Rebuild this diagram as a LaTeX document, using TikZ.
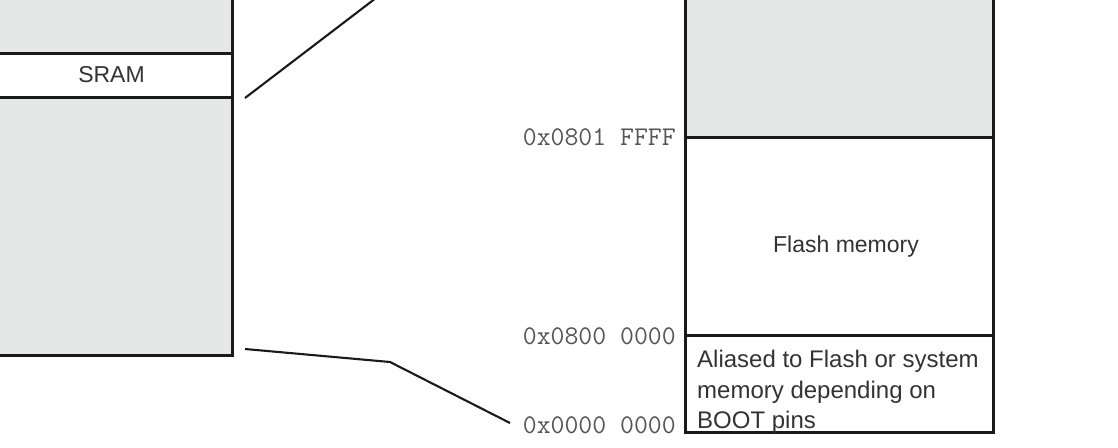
\documentclass[tikz,border=0pt]{standalone}
\usepackage{fontspec}
\setmainfont{Liberation Sans}
\definecolor{memgray}{HTML}{E6E7E7}
\definecolor{edge}{HTML}{1A1A1A}
\definecolor{txt}{HTML}{333333}
\definecolor{addr}{HTML}{555555}
\begin{document}
\begin{tikzpicture}[x=1pt,y=-1pt,
  region/.style={draw=edge, line width=3pt, inner sep=0pt, outer sep=0pt},
  grayregion/.style={region, fill=memgray},
  whiteregion/.style={region, fill=white},
  label/.style={font=\fontsize{23}{28}\selectfont, text=txt, inner sep=0pt},
  addrlabel/.style={font=\ttfamily\fontsize{27}{32}\selectfont, text=addr, inner sep=0pt, anchor=base east},
  link/.style={draw=edge, line width=2.1pt}]
\useasboundingbox (0,0) rectangle (1118,447);
\clip (0,0) rectangle (1118,447);
% left column
\node[grayregion, minimum width=262pt, minimum height=73pt, anchor=north east] (ltop) at (232,-20) {};
\node[whiteregion, minimum width=262pt, minimum height=44pt, anchor=north east] (sram) at (232,53) {};
\node[grayregion, minimum width=262pt, minimum height=258pt, anchor=north east] (lbot) at (232,97) {};
\node[label, anchor=base] at (111.5,82) {SRAM};
% right column
\node[grayregion, minimum width=308pt, minimum height=157pt, anchor=north west] (rtop) at (685,-20) {};
\node[whiteregion, minimum width=308pt, minimum height=198pt, anchor=north west] (flash) at (685,137) {};
\node[whiteregion, minimum width=308pt, minimum height=97pt, anchor=north west] (alias) at (685,335) {};
\node[label, anchor=base] (flashtxt) at (846,252) {Flash memory};
\node[label, font=\fontsize{24}{31}\selectfont, anchor=base west] (al1) at (697,367) {Aliased to Flash or system};
\node[label, font=\fontsize{24}{31}\selectfont, anchor=base west] (al2) at (697,398) {memory depending on};
\node[label, font=\fontsize{24}{31}\selectfont, anchor=base west] (al3) at (697,428) {BOOT pins};
% addresses
\node[addrlabel] (a1) at (676,145) {0x0801 FFFF};
\node[addrlabel] (a2) at (676,344) {0x0800 0000};
\node[addrlabel] (a3) at (676,433) {0x0000 0000};
% connectors
\coordinate (c1s) at (245,98);
\coordinate (c1e) at (376,-2);
\coordinate (c2s) at (245,349);
\coordinate (c2m) at (390,362);
\coordinate (c2e) at (510,423);
\draw[link] (c1s) -- (c1e);
\draw[link] (c2s) -- (c2m) -- (c2e);
\end{tikzpicture}
\end{document}
